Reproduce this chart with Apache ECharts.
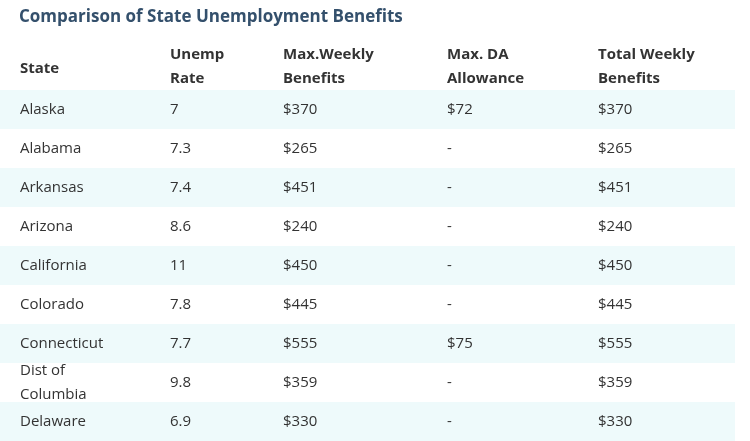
<!DOCTYPE html>
<html>
<head>
<meta charset="utf-8">
<script src="https://cdn.jsdelivr.net/npm/echarts@6/dist/echarts.min.js"></script>
<style>body{margin:0;background:#fff}</style>
</head>
<body>
<div id="main" style="width:750px;height:441px;"></div>
<script>
var headers = ['State', 'Unemp\nRate', 'Max.Weekly\nBenefits', 'Max. DA\nAllowance', 'Total Weekly\nBenefits'];
var states = ['Alaska', 'Alabama', 'Arkansas', 'Arizona', 'California', 'Colorado', 'Connecticut', 'Dist of\nColumbia', 'Delaware'];
var rates = ['7', '7.3', '7.4', '8.6', '11', '7.8', '7.7', '9.8', '6.9'];
var maxWeekly = ['$370', '$265', '$451', '$240', '$450', '$445', '$555', '$359', '$330'];
var daAllowance = ['$72', '-', '-', '-', '-', '-', '$75', '-', '-'];
var totalWeekly = ['$370', '$265', '$451', '$240', '$450', '$445', '$555', '$359', '$330'];

// layout: left edge of each column
var colX = [20, 170, 283, 447, 598];
var font = 'Open Sans, DejaVu Sans, sans-serif';

var rows = states.map(function (s, i) {
    return [i, s, rates[i], maxWeekly[i], daAllowance[i], totalWeekly[i]];
});

var myChart = echarts.init(document.getElementById('main'));
myChart.setOption({
    animation: false,
    title: {
        text: 'Comparison of State Unemployment Benefits',
        left: 14, top: 4,
        textStyle: { color: '#34506c', fontSize: 17, fontWeight: 'bold', fontFamily: font }
    },
    grid: { left: 0, right: 0, top: 90, bottom: -9 },
    xAxis: { type: 'value', min: 0, max: 750, show: false },
    yAxis: { type: 'category', inverse: true, data: states, show: false },
    graphic: headers.map(function (h, i) {
        return {
            type: 'text', left: colX[i], top: h.indexOf('\n') < 0 ? 57 : 43,
            style: { text: h, fill: '#333', font: 'bold 15px ' + font, lineHeight: 24 }
        };
    }),
    series: [{
        type: 'custom',
        data: rows,
        clip: false,
        renderItem: function (params, api) {
            var idx = api.value(0);
            var c = api.coord([0, idx]);
            var h = api.size([0, 1])[1];
            var children = [{
                type: 'rect',
                shape: { x: 0, y: c[1] - h / 2, width: 735, height: h },
                style: { fill: idx % 2 === 0 ? '#eefafb' : '#ffffff' }
            }];
            for (var k = 0; k < 5; k++) {
                var p = api.coord([colX[k], idx]);
                children.push({
                    type: 'text',
                    style: {
                        x: p[0], y: p[1], text: rows[idx][k + 1],
                        fill: '#333', font: '15px ' + font,
                        verticalAlign: 'middle', align: 'left', lineHeight: 24
                    }
                });
            }
            return { type: 'group', children: children };
        }
    }]
});
</script>
</body>
</html>
